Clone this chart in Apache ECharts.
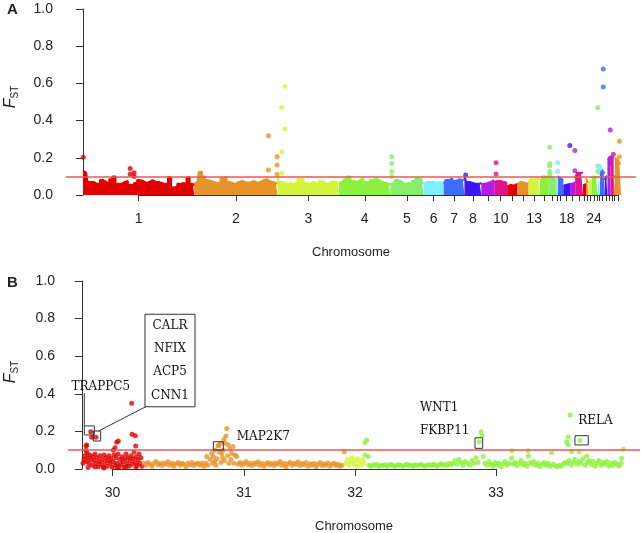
<!DOCTYPE html>
<html>
<head>
<meta charset="utf-8">
<script src="https://cdn.jsdelivr.net/npm/echarts@6/dist/echarts.min.js"></script>
<style>
html, body { margin: 0; padding: 0; background: #fff; }
#main { width: 642px; height: 533px; }
</style>
</head>
<body>
<div id="main"></div>
<script>
// ---- panel A : genome wide ----
var chrNames = ['1','2','3','4','5','6','7','8','9','10','11','12','13','14','15','16','17','18','19','20',
                '21','22','23','24','25','26','27','28','30','31','32','33'];
var chrLen = [198,148,110,91,59,36,37,30,23,23,18,20,20,16,14,2,10,12,9,14,
              5.5,4.5,6,7,3.5,3.5,9,4.5,5.5,5.5,2,11];
var shownA = ['1','2','3','4','5','6','7','8','10','13','18','24'];
// upper edge of the dense bulk of SNPs, read along each chromosome
var envelopeA = [
  [0.13,0.12,0.07,0.07,0.06,0.06,0.08,0.07,0.06,0.085,0.1,0.06,0.06,0.07,0.075,0.055,0.05,0.065,0.08,0.075,0.065,0.07,0.08,0.07,0.07,0.065,0.06,0.06,0.095,0.04,0.045,0.06,0.065,0.06,0.095,0.06,0.05],
  [0.06,0.07,0.125,0.1,0.08,0.075,0.07,0.065,0.065,0.09,0.1,0.07,0.065,0.06,0.07,0.075,0.07,0.065,0.07,0.075,0.065,0.07,0.08,0.085,0.075,0.07,0.065,0.06],
  [0.1,0.07,0.065,0.06,0.065,0.06,0.07,0.09,0.085,0.065,0.06,0.07,0.065,0.06,0.075,0.065,0.06,0.07,0.075,0.065,0.06],
  [0.065,0.07,0.085,0.1,0.075,0.07,0.08,0.09,0.07,0.065,0.08,0.09,0.08,0.07,0.065,0.06,0.055],
  [0.06,0.065,0.08,0.07,0.06,0.065,0.06,0.075,0.09,0.085,0.065],
  [0.06,0.07,0.07,0.07,0.065,0.07,0.06],
  [0.06,0.08,0.09,0.075,0.085,0.08,0.085],
  [0.1,0.07,0.065,0.06,0.06,0.065],
  [0.06,0.06,0.065,0.07,0.08],
  [0.07,0.075,0.075,0.07,0.065],
  [0.045,0.055,0.05,0.06],
  [0.06,0.07,0.065,0.06],
  [0.07,0.085,0.09,0.08],
  [0.08,0.1,0.09],
  [0.1,0.09,0.08],
  [0.09,0.09],
  [0.1,0.09,0.08],
  [0.05,0.055,0.06],
  [0.06,0.07],
  [0.09,0.12,0.12],
  [0.05,0.06],
  [0.09,0.07],
  [0.07,0.08],
  [0.1,0.095],
  [0.1,0.09],
  [0.11,0.12],
  [0.13,0.135,0.12],
  [0.08,0.1],
  [0.19,0.2],
  [0.21,0.2],
  [0.1,0.1],
  [0.2,0.19,0.17]
];
// isolated SNPs above the bulk: [chromosome, position in chromosome (Mb), Fst]
var peaksA = [
  ['1',0.5,0.203],['1',84,0.143],['1',84,0.111],['1',91,0.12],['1',91,0.099],
  ['2',132,0.319],['2',132,0.134],['2',147.5,0.206],['2',147.5,0.161],['2',147.5,0.111],
  ['3',13.5,0.583],['3',7.6,0.472],['3',13.5,0.355],['3',7.6,0.233],['3',7.6,0.117],
  ['5',2.5,0.206],['5',2.5,0.17],['5',2.5,0.126],['5',2.5,0.1],
  ['8',2.1,0.108],
  ['10',3.2,0.174],['10',3.2,0.113],
  ['15',1.8,0.257],['15',1.8,0.17],['15',1.8,0.156],['15',1.8,0.126],['15',1.8,0.108],
  ['16',1.8,0.174],['16',1.8,0.126],
  ['18',11.5,0.266],
  ['19',8.5,0.239],['19',8.5,0.131],
  ['25',3.3,0.47],['25',3.3,0.156],['25',3.3,0.126],
  ['26',3.3,0.152],['26',3.3,0.14],
  ['27',6,0.677],['27',6,0.58],
  ['30',5,0.35],['30',5,0.197],['30',5,0.17],
  ['31',5,0.219],
  ['33',8.2,0.289],['33',8.2,0.206]
];
var paletteA = ['#e00000','#e8922a','#d4f53c','#8cf03c','#88ee6a','#80eeff','#3f6dff','#3d16f5','#b31be8','#e0148f'];
var threshold = 0.1;

// ---- panel B : chromosomes 30-33 ----
var chrNamesB = ['30','31','32','33'];
var chrLenB = [1.22, 4.04, 0.40, 5.24];
var colorsB = ['#e00000','#e8922a','#d4f53c','#8cf03c'];
// [position in chromosome (Mb), Fst]
var b30 = [
  [0.08,0.124],[0.094,0.128],[0.08,0.1],[0.174,0.198],[0.194,0.169],[0.28,0.169],[0.626,0.1],[0.694,0.142],
  [0.726,0.149],[0.66,0.113],[0.994,0.35],[1.0,0.185],[1.066,0.177],[1.074,0.122],
  [0.02,0.03],[0.04,0.05],[0.06,0.07],[0.09,0.04],[0.1,0.085],[0.12,0.06],[0.14,0.03],[0.16,0.075],[0.18,0.05],
  [0.2,0.02],[0.22,0.065],[0.24,0.045],[0.26,0.08],[0.28,0.03],[0.3,0.06],[0.32,0.012],[0.34,0.04],[0.36,0.07],
  [0.38,0.025],[0.4,0.05],[0.42,0.01],[0.44,0.075],[0.46,0.035],[0.48,0.06],[0.5,0.015],[0.52,0.045],[0.54,0.07],
  [0.56,0.03],[0.58,0.055],[0.6,0.01],[0.62,0.04],[0.64,0.075],[0.66,0.02],[0.68,0.06],[0.7,0.03],[0.72,0.08],
  [0.74,0.012],[0.76,0.05],[0.78,0.025],[0.8,0.065],[0.82,0.04],[0.84,0.01],[0.86,0.055],[0.88,0.08],[0.9,0.03],
  [0.92,0.06],[0.94,0.015],[0.96,0.045],[0.98,0.07],[1.0,0.025],[1.02,0.055],[1.04,0.09],[1.06,0.035],[1.08,0.065],
  [1.1,0.02],[1.12,0.05],[1.14,0.08],[1.16,0.03],[1.18,0.06],[1.2,0.015],
  [0.12,0.008],[0.26,0.01],[0.44,0.005],[0.7,0.006],[0.88,0.012],[1.08,0.008]
];
var b31 = [
  [0.02,0.03],[0.06,0.02],[0.1,0.035],[0.14,0.025],[0.18,0.015],[0.22,0.03],[0.26,0.04],[0.3,0.022],[0.34,0.03],
  [0.38,0.018],[0.42,0.032],[0.46,0.025],[0.5,0.038],[0.54,0.02],[0.58,0.03],[0.62,0.015],[0.66,0.028],[0.7,0.035],
  [0.74,0.02],[0.78,0.03],[0.82,0.025],[0.86,0.012],[0.9,0.03],[0.94,0.022],[0.98,0.035],[1.02,0.018],[1.06,0.028],
  [1.1,0.032],[1.14,0.02],[1.18,0.03],[1.22,0.015],
  [1.26,0.03],[1.274,0.066],[1.3,0.02],[1.34,0.052],[1.374,0.083],[1.39,0.03],[1.406,0.066],[1.43,0.04],[1.44,0.1],
  [1.46,0.02],[1.48,0.055],[1.506,0.122],[1.514,0.128],[1.53,0.09],[1.554,0.137],[1.56,0.035],[1.574,0.083],
  [1.59,0.06],[1.606,0.1],[1.62,0.158],[1.63,0.045],[1.64,0.137],[1.66,0.175],[1.674,0.216],[1.69,0.07],
  [1.706,0.128],[1.72,0.03],[1.74,0.105],[1.76,0.05],[1.774,0.083],[1.8,0.12],[1.82,0.03],[1.84,0.074],
  [1.874,0.066],[1.9,0.025],
  [1.94,0.035],[1.98,0.02],[2.02,0.03],[2.06,0.04],[2.1,0.022],[2.14,0.03],[2.18,0.018],[2.22,0.032],[2.26,0.025],
  [2.3,0.038],[2.34,0.02],[2.38,0.03],[2.42,0.015],[2.46,0.028],[2.5,0.035],[2.54,0.022],[2.58,0.03],[2.62,0.018],
  [2.66,0.032],[2.7,0.025],[2.74,0.04],[2.78,0.02],[2.82,0.03],[2.86,0.012],[2.9,0.028],[2.94,0.035],[2.98,0.02],
  [3.02,0.03],[3.06,0.025],[3.1,0.038],[3.14,0.018],[3.18,0.03],[3.22,0.022],[3.26,0.035],[3.3,0.015],[3.34,0.028],
  [3.38,0.02],[3.42,0.03],[3.46,0.012],[3.5,0.025],[3.54,0.035],[3.58,0.018],[3.62,0.028],[3.66,0.02],[3.7,0.032],
  [3.74,0.015],[3.78,0.025],[3.82,0.03],[3.86,0.018],[3.9,0.025],[3.94,0.015],[3.98,0.02],[4.026,0.092]
];
var b32 = [
  [0.02,0.03],[0.05,0.05],[0.08,0.02],[0.11,0.04],[0.14,0.06],[0.17,0.025],[0.2,0.045],[0.23,0.015],
  [0.26,0.055],[0.29,0.035],[0.32,0.02],[0.35,0.05],[0.38,0.03]
];
var b33 = [
  [0.0,0.14],[0.034,0.154],[0.0,0.074],[0.066,0.066],
  [0.08,0.02],[0.12,0.015],[0.16,0.022],[0.2,0.018],[0.24,0.025],[0.28,0.015],[0.32,0.02],[0.36,0.018],[0.4,0.022],
  [0.44,0.015],[0.48,0.02],[0.52,0.025],[0.56,0.018],[0.6,0.015],[0.64,0.02],[0.68,0.022],[0.72,0.018],[0.76,0.015],
  [0.8,0.02],[0.84,0.025],[0.88,0.018],[0.92,0.02],[0.96,0.015],[1.0,0.022],[1.04,0.018],[1.08,0.02],[1.12,0.025],
  [1.16,0.018],[1.2,0.015],[1.24,0.02],[1.28,0.022],[1.32,0.018],[1.36,0.025],[1.4,0.02],[1.44,0.015],[1.48,0.022],
  [1.52,0.028],[1.56,0.02],[1.6,0.025],[1.64,0.018],[1.68,0.03],[1.72,0.022],
  [1.76,0.03],[1.8,0.045],[1.84,0.025],[1.88,0.05],[1.92,0.035],[1.96,0.02],[2.0,0.04],[2.05,0.03],[2.1,0.02],
  [2.14,0.045],[2.18,0.03],[2.22,0.06],[2.26,0.035],
  [2.286,0.145],[2.32,0.198],[2.346,0.18],[2.366,0.066],
  [2.4,0.03],[2.44,0.02],[2.48,0.04],[2.52,0.025],[2.56,0.015],[2.6,0.035],[2.64,0.022],[2.68,0.03],[2.72,0.012],
  [2.76,0.028],[2.8,0.04],[2.84,0.02],[2.88,0.03],[2.934,0.097],[2.934,0.057],[2.96,0.025],[3.0,0.035],[3.04,0.018],
  [3.08,0.03],[3.12,0.045],[3.16,0.022],[3.2,0.03],[3.24,0.015],[3.266,0.097],[3.266,0.069],[3.3,0.035],[3.34,0.025],
  [3.38,0.04],[3.42,0.02],[3.46,0.03],[3.5,0.012],[3.54,0.025],[3.58,0.035],[3.62,0.02],[3.66,0.03],[3.7,0.015],
  [3.734,0.087],[3.76,0.025],[3.8,0.018],[3.84,0.012],[3.88,0.02],[3.92,0.015],[3.96,0.025],[4.0,0.035],
  [4.034,0.145],[4.066,0.172],[4.066,0.128],[4.1,0.287],[4.134,0.092],[4.286,0.092],[4.3,0.151],[4.434,0.069],
  [4.04,0.03],[4.08,0.045],[4.12,0.02],[4.16,0.035],[4.2,0.05],[4.24,0.025],[4.28,0.04],[4.32,0.03],[4.36,0.055],
  [4.4,0.02],[4.44,0.035],[4.48,0.045],[4.52,0.025],[4.56,0.04],[4.6,0.015],[4.64,0.03],[4.68,0.045],[4.72,0.02],
  [4.76,0.035],[4.8,0.025],[4.84,0.04],[4.88,0.015],[4.92,0.03],[4.96,0.02],[5.0,0.035],[5.04,0.025],[5.08,0.015],
  [5.12,0.03],[5.134,0.057],[5.166,0.105]
];
var pointsB = [b30, b31, b32, b33];

// gene boxes and labels on panel B, in panel B data units (x: Mb from start of chr30)
var geneBoxesB = [[0.046,0.229,0.246,0.181],[0.226,0.202,0.374,0.149],[2.626,0.145,2.826,0.101],
                  [7.86,0.166,8.014,0.11],[9.86,0.177,10.126,0.128],[1.26,0.823,2.26,0.331]];
var geneLinksB = [[[0.046,0.403],[0.046,0.229]],[[0.33,0.202],[1.274,0.331]]];
var geneTextsB = [['TRAPPC5',0.376,0.438,'center'],['CALR',1.76,0.761,'center'],['NFIX',1.76,0.637,'center'],
                  ['ACP5',1.76,0.514,'center'],['CNN1',1.76,0.39,'center'],['MAP2K7',3.094,0.172,'left'],
                  ['WNT1',6.76,0.326,'left'],['FKBP11',6.76,0.204,'left'],['RELA',9.926,0.255,'left']];

var font = '"Liberation Sans", Arial, sans-serif';

// cumulative positions
var startA = [], centerA = [], acc = 0;
chrLen.forEach(function (l) { startA.push(acc); centerA.push(acc + l / 2); acc += l; });
var startB = [], centerB = [];
acc = 0;
chrLenB.forEach(function (l) { startB.push(acc); centerB.push(acc + l / 2); acc += l; });

var shownCentersA = shownA.map(function (n) { return centerA[chrNames.indexOf(n)]; });

function nameAt(v, centers, names) {
  for (var i = 0; i < centers.length; i++) {
    if (Math.abs(centers[i] - v) < 1e-6) return names[i];
  }
  return '';
}

var series = [];

// R style axis line from first to last chromosome tick
series.push({
  type: 'line', xAxisIndex: 0, yAxisIndex: 0, data: [], silent: true, z: 1,
  markLine: { symbol: 'none', silent: true, animation: false, label: { show: false },
    lineStyle: { color: '#333', width: 1, type: 'solid' },
    data: [[{ coord: [centerA[0], 0] }, { coord: [centerA[centerA.length - 1], 0] }]] }
});
series.push({
  type: 'line', xAxisIndex: 1, yAxisIndex: 1, data: [], silent: true, z: 1,
  markLine: { symbol: 'none', silent: true, animation: false, label: { show: false },
    lineStyle: { color: '#333', width: 1, type: 'solid' },
    data: [[{ coord: [centerB[0], 0] }, { coord: [centerB[centerB.length - 1], 0] }]] }
});

chrNames.forEach(function (name, i) {
  var env = envelopeA[i], n = env.length, col = paletteA[i % 10];
  var data = env.map(function (v, j) {
    return [startA[i] + chrLen[i] * j / (n - 1), v];
  });
  series.push({
    type: 'line', xAxisIndex: 0, yAxisIndex: 0, data: data, step: 'middle', symbol: 'none', silent: true, z: 2,
    lineStyle: { color: col, width: 2 }, areaStyle: { color: col, opacity: 1 }
  });
});

series.push({
  type: 'scatter', xAxisIndex: 0, yAxisIndex: 0, symbolSize: 5, silent: true, z: 3,
  data: peaksA.map(function (p) {
    var i = chrNames.indexOf(p[0]);
    return { value: [startA[i] + p[1], p[2]], itemStyle: { color: paletteA[i % 10] } };
  })
});

pointsB.forEach(function (pts, b) {
  series.push({
    type: 'scatter', xAxisIndex: 1, yAxisIndex: 1, symbolSize: 5, silent: true, z: 3,
    itemStyle: { color: colorsB[b] },
    data: pts.map(function (p) { return [startB[b] + p[0], p[1]]; })
  });
});

// threshold lines on top
[0, 1].forEach(function (k) {
  series.push({
    type: 'line', xAxisIndex: k, yAxisIndex: k, data: [], silent: true, z: 10,
    markLine: { symbol: 'none', silent: true, animation: false, label: { show: false },
      lineStyle: { color: '#e8585a', width: 1.5, type: 'solid' },
      data: [{ yAxis: threshold }] }
  });
});

function yAxisOf(k) {
  return {
    gridIndex: k, type: 'value', min: 0, max: 1, interval: 0.2,
    axisLine: { show: true, lineStyle: { color: '#333', width: 1 } },
    axisTick: { show: true, length: 7, lineStyle: { color: '#333' } },
    splitLine: { show: false },
    axisLabel: { fontSize: 14, color: '#222', fontFamily: font, margin: 13,
      formatter: function (v) { return v.toFixed(1); } }
  };
}

var option = {
  animation: false,
  backgroundColor: '#fff',
  grid: [
    { left: 66, top: 9, width: 570, height: 186 },
    { left: 68, top: 281, width: 572, height: 188 }
  ],
  xAxis: [
    { gridIndex: 0, type: 'value', min: -30.3, max: 984.3,
      axisLine: { show: false }, splitLine: { show: false },
      axisTick: { show: true, length: 6, customValues: centerA, lineStyle: { color: '#333' } },
      axisLabel: { customValues: shownCentersA, fontSize: 14, color: '#222', fontFamily: font, margin: 17,
        formatter: function (v) { return nameAt(v, centerA, chrNames); } } },
    { gridIndex: 1, type: 'value', min: -0.28, max: 11.16,
      axisLine: { show: false }, splitLine: { show: false },
      axisTick: { show: true, length: 7, customValues: centerB, lineStyle: { color: '#333' } },
      axisLabel: { customValues: centerB, fontSize: 14, color: '#222', fontFamily: font, margin: 17,
        formatter: function (v) { return nameAt(v, centerB, chrNamesB); } } }
  ],
  yAxis: [yAxisOf(0), yAxisOf(1)],
  series: series
};

var chart = echarts.init(document.getElementById('main'));
chart.setOption(option);

function fstName(x, y) {
  return { type: 'text', x: x, y: y, rotation: Math.PI / 2, z: 20,
    style: { text: '{f|F}{s|ST}', align: 'center', verticalAlign: 'middle',
      rich: { f: { fontSize: 16, fontStyle: 'italic', fontFamily: font, fill: '#222', lineHeight: 18 },
              s: { fontSize: 10, fontFamily: font, fill: '#222', verticalAlign: 'bottom', lineHeight: 18 } } } };
}
function plainText(t, x, y, size, weight) {
  return { type: 'text', x: x, y: y, z: 20,
    style: { text: t, fontSize: size, fontWeight: weight || 'normal', fontFamily: font, fill: '#222',
      align: 'center', verticalAlign: 'middle' } };
}

var graphics = [
  plainText('A', 12.5, 9.5, 15, 'bold'),
  plainText('B', 12.5, 282.5, 15, 'bold'),
  fstName(11, 97),
  fstName(11, 372),
  plainText('Chromosome', 351, 252, 13),
  plainText('Chromosome', 354, 526, 13)
];

function px(p) { return chart.convertToPixel({ xAxisIndex: 1, yAxisIndex: 1 }, p); }

geneBoxesB.forEach(function (b) {
  var a = px([b[0], b[1]]), c = px([b[2], b[3]]);
  graphics.push({ type: 'rect', z: 20,
    shape: { x: a[0], y: a[1], width: c[0] - a[0], height: c[1] - a[1] },
    style: { fill: 'none', stroke: '#333', lineWidth: 1 } });
});
geneLinksB.forEach(function (l) {
  var a = px(l[0]), c = px(l[1]);
  graphics.push({ type: 'line', z: 20, shape: { x1: a[0], y1: a[1], x2: c[0], y2: c[1] },
    style: { stroke: '#333', lineWidth: 1 } });
});
geneTextsB.forEach(function (t) {
  var a = px([t[1], t[2]]);
  graphics.push({ type: 'text', x: a[0], y: a[1], z: 20,
    style: { text: t[0], fontSize: 12, fontFamily: '"DejaVu Serif", serif', fill: '#111',
      align: t[3], verticalAlign: 'middle' } });
});

chart.setOption({ graphic: graphics });
</script>
</body>
</html>
